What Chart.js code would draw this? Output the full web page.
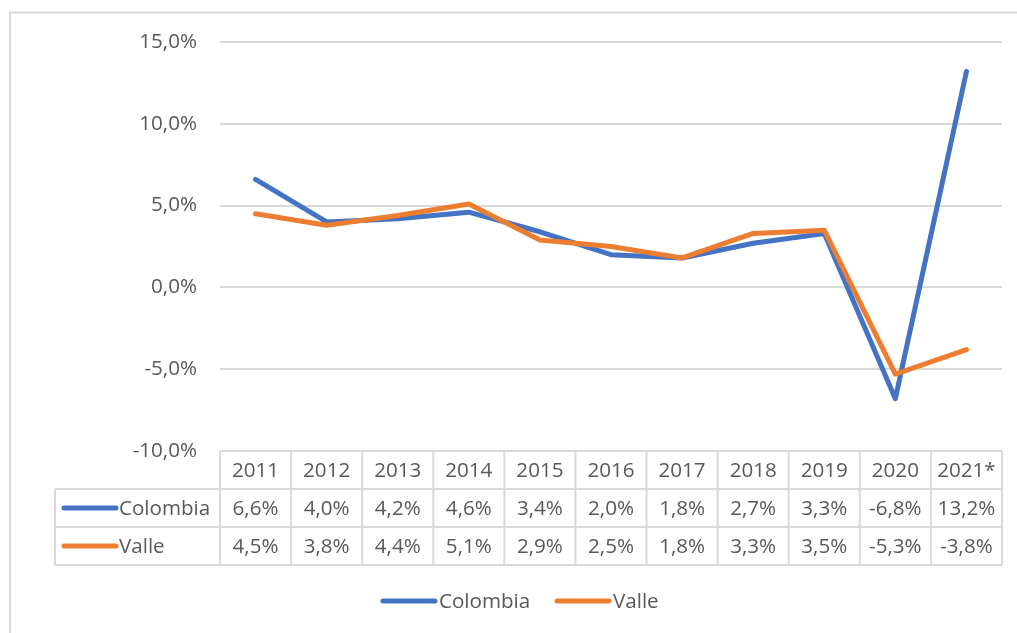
<!DOCTYPE html>
<html>
<head>
<meta charset="utf-8">
<script src="https://cdn.jsdelivr.net/npm/chart.js@4/dist/chart.umd.min.js"></script>
<style>
  html, body { margin: 0; padding: 0; background: #fff; }
  #wrap { width: 1017px; height: 633px; position: relative; }
</style>
</head>
<body>
<div id="wrap"><canvas id="growthChart" width="1017" height="633"></canvas></div>
<script>
// Data
const years = ['2011', '2012', '2013', '2014', '2015', '2016', '2017', '2018', '2019', '2020', '2021*'];
const colombia = [6.6, 4.0, 4.2, 4.6, 3.4, 2.0, 1.8, 2.7, 3.3, -6.8, 13.2];
const valle = [4.5, 3.8, 4.4, 5.1, 2.9, 2.5, 1.8, 3.3, 3.5, -5.3, -3.8];
const yTicks = [-10, -5, 0, 5, 10, 15];

const BLUE = '#4472C4';
const ORANGE = '#ED7D31';
const GRID = '#d9d9d9';
const TEXT = '#595959';
const FONT = '"Open Sans", "Liberation Sans", sans-serif';
const FONT_SIZE = 20.6;

function pct(v) {
  return v.toFixed(1).replace('.', ',') + '%';
}

const series = [
  { label: 'Colombia', data: colombia, color: BLUE },
  { label: 'Valle', data: valle, color: ORANGE }
];

// Data table + frame + legend drawn under the plot
const tablePlugin = {
  id: 'dataTable',
  afterDraw(chart) {
    const ctx = chart.ctx;
    const x = chart.scales.x;
    const area = chart.chartArea;
    const half = (x.getPixelForValue(1) - x.getPixelForValue(0)) / 2;
    const left = area.left;
    const right = area.right;
    const labelLeft = 55;
    const rowH = 38;
    const top = area.bottom;
    const rows = [top, top + rowH, top + rowH * 2, top + rowH * 3];

    ctx.save();
    ctx.strokeStyle = GRID;
    ctx.lineWidth = 2;

    // outer frame (left and top edges)
    ctx.beginPath();
    ctx.moveTo(10, 12);
    ctx.lineTo(10, 633);
    ctx.moveTo(9, 12.5);
    ctx.lineTo(1017, 12.5);
    ctx.stroke();

    // horizontal table lines
    ctx.beginPath();
    ctx.moveTo(left, rows[0]);
    ctx.lineTo(right, rows[0]);
    for (let r = 1; r < rows.length; r++) {
      ctx.moveTo(labelLeft, rows[r]);
      ctx.lineTo(right, rows[r]);
    }
    // vertical table lines
    ctx.moveTo(labelLeft, rows[1]);
    ctx.lineTo(labelLeft, rows[3]);
    for (let i = 0; i < years.length; i++) {
      const cx = x.getPixelForValue(i) - half;
      ctx.moveTo(cx, rows[0]);
      ctx.lineTo(cx, rows[3]);
    }
    ctx.moveTo(right, rows[0]);
    ctx.lineTo(right, rows[3]);
    ctx.stroke();

    // cell text
    ctx.fillStyle = TEXT;
    ctx.font = FONT_SIZE + 'px ' + FONT;
    ctx.textAlign = 'center';
    ctx.textBaseline = 'middle';
    years.forEach((y, i) => {
      ctx.fillText(y, x.getPixelForValue(i), (rows[0] + rows[1]) / 2 + 1);
    });
    series.forEach((s, r) => {
      const cy = (rows[r + 1] + rows[r + 2]) / 2 + 1;
      s.data.forEach((v, i) => {
        ctx.fillText(pct(v), x.getPixelForValue(i), cy);
      });
      // row label with line key
      ctx.strokeStyle = s.color;
      ctx.lineWidth = 5;
      ctx.lineCap = 'round';
      ctx.beginPath();
      ctx.moveTo(64, cy - 1);
      ctx.lineTo(116, cy - 1);
      ctx.stroke();
      ctx.textAlign = 'left';
      ctx.fillText(s.label, 119, cy);
      ctx.textAlign = 'center';
    });

    // bottom legend
    const legendY = 601;
    const keys = [{ x: 381 }, { x: 555 }];
    series.forEach((s, i) => {
      const kx = keys[i].x;
      ctx.strokeStyle = s.color;
      ctx.lineWidth = 5;
      ctx.lineCap = 'round';
      ctx.beginPath();
      ctx.moveTo(kx + 2, legendY);
      ctx.lineTo(kx + 54, legendY);
      ctx.stroke();
      ctx.textAlign = 'left';
      ctx.fillText(s.label, kx + 58, legendY + 1);
    });
    ctx.restore();
  }
};

const ctx = document.getElementById('growthChart').getContext('2d');
new Chart(ctx, {
  type: 'line',
  data: {
    labels: years,
    datasets: series.map((s, i) => ({
      label: s.label,
      data: s.data,
      borderColor: s.color,
      backgroundColor: s.color,
      borderWidth: 5,
      pointRadius: 0,
      tension: 0,
      borderCapStyle: 'round',
      borderJoinStyle: 'round',
      order: i === 0 ? 1 : 0
    }))
  },
  options: {
    responsive: false,
    animation: false,
    layout: {
      padding: { top: 42, right: 15, bottom: 182, left: 0 }
    },
    scales: {
      x: {
        type: 'category',
        offset: true,
        display: false
      },
      y: {
        min: -10,
        max: 15,
        afterBuildTicks(scale) {
          scale.ticks = yTicks.map(v => ({ value: v }));
        },
        afterFit(scale) {
          scale.width = 220;
        },
        grid: {
          color: GRID,
          lineWidth: 2,
          drawTicks: false
        },
        border: { display: false },
        ticks: {
          padding: 23,
          color: TEXT,
          font: { family: FONT, size: FONT_SIZE },
          callback: v => pct(v)
        }
      }
    },
    plugins: {
      legend: { display: false },
      tooltip: { enabled: false }
    }
  },
  plugins: [tablePlugin]
});
</script>
</body>
</html>
